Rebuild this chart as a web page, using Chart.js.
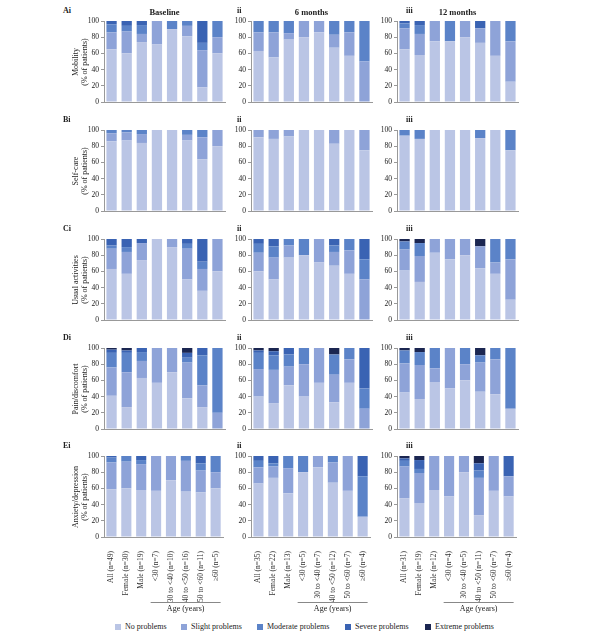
<!DOCTYPE html>
<html>
<head>
<meta charset="utf-8">
<script src="https://cdn.jsdelivr.net/npm/chart.js@4.4.1/dist/chart.umd.min.js"></script>
<style>
  body { margin: 0; background: #fff; }
  #fig { position: relative; width: 600px; height: 633px; font-family: "Liberation Serif", "Times New Roman", serif; color: #222; }
  #fig canvas { position: absolute; }
  .lbl { position: absolute; white-space: nowrap; font-size: 8px; line-height: 10px; }
  .bold { font-weight: bold; }
  .ytitle { position: absolute; transform: translate(-50%, -50%) rotate(-90deg); text-align: center; font-size: 8px; line-height: 9px; white-space: nowrap; }
  .swatch { position: absolute; width: 6px; height: 6px; }
</style>
</head>
<body>
<div id="fig"></div>
<script>
const severityLabels = ["No problems", "Slight problems", "Moderate problems", "Severe problems", "Extreme problems"];
const severityColors = ["#bac5e5", "#8ea3d8", "#5b83c8", "#3a63b3", "#1b2651"];

const baselineGroups = ["All (n=49)", "Female (n=30)", "Male (n=19)", "<30 (n=7)", "30 to <40 (n=10)", "40 to <50 (n=16)", "50 to <60 (n=11)", "≥60 (n=5)"];
const sixMonthGroups = ["All (n=35)", "Female (n=22)", "Male (n=13)", "<30 (n=5)", "30 to <40 (n=7)", "40 to <50 (n=12)", "50 to <60 (n=7)", "≥60 (n=4)"];
const twelveMonthGroups = ["All (n=31)", "Female (n=19)", "Male (n=12)", "<30 (n=4)", "30 to <40 (n=5)", "40 to <50 (n=11)", "50 to <60 (n=7)", "≥60 (n=4)"];
const timepoints = ["Baseline", "6 months", "12 months"];
const dimensions = ["Mobility", "Self-care", "Usual activities", "Pain/discomfort", "Anxiety/depression"];
const yTicks = [0, 20, 40, 60, 80, 100];

// one row per severity level (no, slight, moderate, severe, extreme), one value per group, % of patients
const mobilityBaseline = [
  [65, 60, 74, 71, 90, 81, 18, 60],
  [21, 27, 10, 29, 0, 13, 46, 20],
  [10, 7, 11, 0, 10, 6, 9, 20],
  [4, 6, 5, 0, 0, 0, 27, 0],
  [0, 0, 0, 0, 0, 0, 0, 0]
];
const mobility6m = [
  [63, 55, 77, 80, 86, 67, 57, 0],
  [23, 31, 8, 20, 14, 16, 29, 50],
  [14, 14, 15, 0, 0, 17, 14, 50],
  [0, 0, 0, 0, 0, 0, 0, 0],
  [0, 0, 0, 0, 0, 0, 0, 0]
];
const mobility12m = [
  [65, 58, 75, 75, 80, 73, 57, 25],
  [26, 26, 25, 0, 20, 18, 43, 50],
  [6, 11, 0, 25, 0, 0, 0, 25],
  [3, 5, 0, 0, 0, 9, 0, 0],
  [0, 0, 0, 0, 0, 0, 0, 0]
];

const selfCareBaseline = [
  [86, 87, 84, 100, 100, 87, 64, 80],
  [10, 10, 11, 0, 0, 7, 27, 20],
  [4, 3, 5, 0, 0, 6, 9, 0],
  [0, 0, 0, 0, 0, 0, 0, 0],
  [0, 0, 0, 0, 0, 0, 0, 0]
];
const selfCare6m = [
  [91, 89, 92, 100, 100, 83, 100, 75],
  [9, 11, 8, 0, 0, 17, 0, 25],
  [0, 0, 0, 0, 0, 0, 0, 0],
  [0, 0, 0, 0, 0, 0, 0, 0],
  [0, 0, 0, 0, 0, 0, 0, 0]
];
const selfCare12m = [
  [93, 89, 100, 100, 100, 90, 100, 75],
  [0, 0, 0, 0, 0, 0, 0, 0],
  [7, 11, 0, 0, 0, 10, 0, 25],
  [0, 0, 0, 0, 0, 0, 0, 0],
  [0, 0, 0, 0, 0, 0, 0, 0]
];

const usualBaseline = [
  [63, 57, 74, 100, 90, 50, 36, 60],
  [25, 27, 21, 0, 10, 38, 27, 40],
  [4, 6, 0, 0, 0, 6, 9, 0],
  [8, 10, 5, 0, 0, 6, 28, 0],
  [0, 0, 0, 0, 0, 0, 0, 0]
];
const usual6m = [
  [60, 50, 77, 80, 71, 67, 57, 0],
  [23, 27, 15, 0, 29, 17, 29, 50],
  [11, 14, 8, 20, 0, 8, 14, 25],
  [6, 9, 0, 0, 0, 8, 0, 25],
  [0, 0, 0, 0, 0, 0, 0, 0]
];
const usual12m = [
  [61, 47, 83, 75, 80, 64, 57, 25],
  [26, 32, 17, 25, 20, 27, 14, 50],
  [10, 16, 0, 0, 0, 0, 29, 25],
  [0, 0, 0, 0, 0, 0, 0, 0],
  [3, 5, 0, 0, 0, 9, 0, 0]
];

const painBaseline = [
  [41, 27, 63, 57, 70, 38, 27, 0],
  [35, 43, 21, 43, 30, 44, 27, 20],
  [18, 24, 11, 0, 0, 6, 37, 80],
  [4, 3, 5, 0, 0, 6, 9, 0],
  [2, 3, 0, 0, 0, 6, 0, 0]
];
const pain6m = [
  [40, 32, 54, 40, 57, 33, 57, 0],
  [34, 41, 23, 40, 43, 34, 29, 25],
  [20, 18, 15, 20, 0, 25, 14, 25],
  [3, 5, 8, 0, 0, 0, 0, 50],
  [3, 4, 0, 0, 0, 8, 0, 0]
];
const pain12m = [
  [45, 37, 58, 50, 60, 46, 43, 25],
  [36, 42, 17, 50, 20, 36, 43, 0],
  [16, 16, 25, 0, 20, 9, 14, 75],
  [0, 0, 0, 0, 0, 0, 0, 0],
  [3, 5, 0, 0, 0, 9, 0, 0]
];

const anxietyBaseline = [
  [59, 60, 58, 57, 70, 56, 55, 60],
  [33, 33, 32, 43, 30, 38, 27, 20],
  [6, 7, 5, 0, 0, 6, 9, 20],
  [2, 0, 5, 0, 0, 0, 9, 0],
  [0, 0, 0, 0, 0, 0, 0, 0]
];
const anxiety6m = [
  [66, 73, 54, 80, 86, 67, 57, 25],
  [20, 14, 31, 0, 14, 25, 43, 0],
  [8, 4, 15, 20, 0, 8, 0, 50],
  [6, 9, 0, 0, 0, 0, 0, 25],
  [0, 0, 0, 0, 0, 0, 0, 0]
];
const anxiety12m = [
  [48, 42, 58, 50, 80, 27, 57, 50],
  [39, 37, 42, 50, 20, 46, 43, 25],
  [7, 5, 0, 0, 0, 9, 0, 0],
  [3, 11, 0, 0, 0, 9, 0, 25],
  [3, 5, 0, 0, 0, 9, 0, 0]
];

const panelData = [
  [mobilityBaseline, mobility6m, mobility12m],
  [selfCareBaseline, selfCare6m, selfCare12m],
  [usualBaseline, usual6m, usual12m],
  [painBaseline, pain6m, pain12m],
  [anxietyBaseline, anxiety6m, anxiety12m]
];
const groupsByTime = [baselineGroups, sixMonthGroups, twelveMonthGroups];

// layout in page pixels
const colLeft = [104, 251, 397];
const rowTop = [21, 130, 239, 348, 456];
const plotW = 121;
const plotH = 81;
const axisW = 26;
const padTop = 8;
const padRight = 6;
const rowLetters = ["A", "B", "C", "D", "E"];
const colNumerals = ["i", "ii", "iii"];
const letterX = [63, 237, 406];

const fig = document.getElementById("fig");
const FONT = "'Liberation Serif', 'Times New Roman', serif";

function addLabel(text, x, y, cls) {
  const el = document.createElement("div");
  el.className = "lbl" + (cls ? " " + cls : "");
  el.textContent = text;
  el.style.left = x + "px";
  el.style.top = y + "px";
  fig.appendChild(el);
  return el;
}

const ageBracket = {
  id: "ageBracket",
  afterDraw(chart) {
    const x = chart.scales.x;
    const ctx = chart.ctx;
    const x1 = (x.getPixelForValue(2) + x.getPixelForValue(3)) / 2 + 2;
    const x2 = x.getPixelForValue(7) + 5;
    const y = chart.chartArea.bottom + 65.5;
    ctx.save();
    ctx.strokeStyle = "#888";
    ctx.lineWidth = 1;
    ctx.beginPath();
    ctx.moveTo(x1, y);
    ctx.lineTo(x2, y);
    ctx.stroke();
    ctx.fillStyle = "#222";
    ctx.font = "8px " + FONT;
    ctx.textAlign = "center";
    ctx.textBaseline = "top";
    ctx.fillText("Age (years)", (x1 + x2) / 2, y + 2.5);
    ctx.restore();
  }
};

function makePanel(r, c) {
  const bottomRow = r === rowTop.length - 1;
  const xH = bottomRow ? 80 : 8;
  const canvas = document.createElement("canvas");
  const w = axisW + plotW + padRight;
  const h = padTop + plotH + xH;
  canvas.width = w;
  canvas.height = h;
  canvas.style.left = (colLeft[c] - axisW) + "px";
  canvas.style.top = (rowTop[r] - padTop) + "px";
  canvas.style.width = w + "px";
  canvas.style.height = h + "px";
  fig.appendChild(canvas);

  const values = panelData[r][c];
  new Chart(canvas, {
    type: "bar",
    data: {
      labels: groupsByTime[c],
      datasets: severityLabels.map((label, i) => ({
        label,
        data: values[i],
        backgroundColor: severityColors[i],
        borderWidth: 0,
        barPercentage: 0.68,
        categoryPercentage: 1
      }))
    },
    options: {
      responsive: false,
      animation: false,
      layout: { padding: { top: padTop, right: padRight, left: 0, bottom: 0 } },
      plugins: { legend: { display: false }, tooltip: { enabled: false } },
      scales: {
        x: {
          stacked: true,
          grid: { display: false },
          border: { display: true, color: "#999", width: 1 },
          ticks: {
            display: bottomRow,
            autoSkip: false,
            minRotation: 90,
            maxRotation: 90,
            padding: 6,
            color: "#333",
            font: { family: FONT, size: 7.5 }
          },
          afterFit: (scale) => { scale.height = xH; }
        },
        y: {
          stacked: true,
          min: 0,
          max: 100,
          afterBuildTicks: (scale) => { scale.ticks = yTicks.map((v) => ({ value: v })); },
          grid: { display: true, drawOnChartArea: false, drawTicks: true, tickLength: 3, color: "#999" },
          border: { display: true, color: "#999", width: 1 },
          ticks: { padding: 2, color: "#222", font: { family: FONT, size: 7.5 } },
          afterFit: (scale) => { scale.width = axisW; }
        }
      }
    },
    plugins: bottomRow ? [ageBracket] : []
  });
}

rowTop.forEach((top, r) => {
  colLeft.forEach((left, c) => {
    makePanel(r, c);
    const letter = c === 0 ? rowLetters[r] + colNumerals[c] : colNumerals[c];
    addLabel(letter, letterX[c], top - 15, "bold");
  });
  const yt = document.createElement("div");
  yt.className = "ytitle";
  yt.style.left = "80px";
  yt.style.top = (top + plotH / 2) + "px";
  yt.innerHTML = dimensions[r] + "<br>(% of patients)";
  fig.appendChild(yt);
});

timepoints.forEach((name, c) => {
  const el = addLabel(name, colLeft[c] + plotW / 2, 7, "bold");
  el.style.transform = "translateX(-50%)";
  el.style.fontSize = "8.5px";
});

const legendX = [115, 181, 257, 345, 425];
severityLabels.forEach((label, i) => {
  const sw = document.createElement("div");
  sw.className = "swatch";
  sw.style.left = legendX[i] + "px";
  sw.style.top = "624px";
  sw.style.background = severityColors[i];
  fig.appendChild(sw);
  addLabel(label, legendX[i] + 10, 622);
});
</script>
</body>
</html>
